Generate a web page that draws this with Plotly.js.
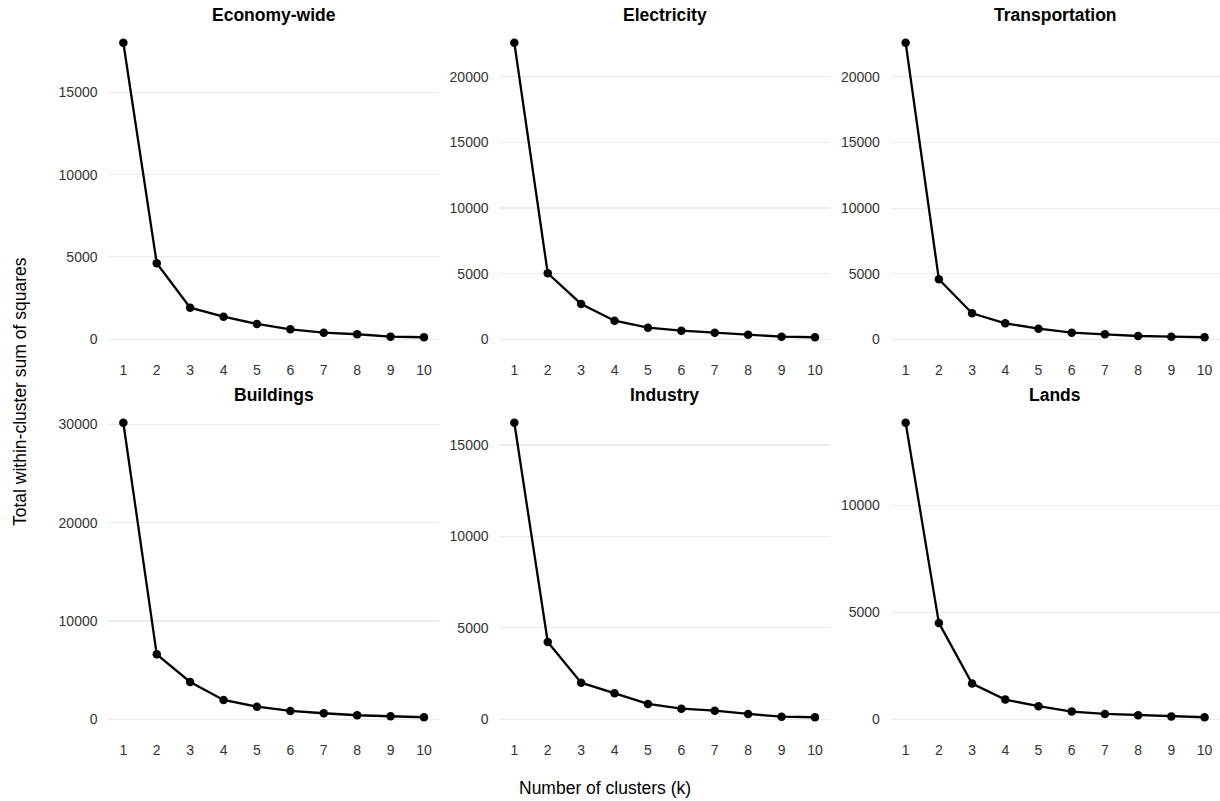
<!DOCTYPE html>
<html>
<head>
<meta charset="utf-8">
<script src="https://cdn.plot.ly/plotly-3.0.1.min.js"></script>
<style>html,body{margin:0;padding:0;background:#fff;}#chart{width:1220px;height:801px;}</style>
</head>
<body>
<div id="chart"></div>
<script>
const k = [1, 2, 3, 4, 5, 6, 7, 8, 9, 10];
const panelNames = ["Economy-wide", "Electricity", "Transportation", "Buildings", "Industry", "Lands"];
const economyWide = [18010, 4615, 1920, 1372, 929, 607, 400, 304, 160, 121];
const electricity = [22590, 5027, 2690, 1417, 885, 655, 503, 350, 198, 152];
const transportation = [22600, 4570, 1980, 1217, 808, 503, 380, 250, 198, 152];
const buildings = [30165, 6610, 3795, 1963, 1281, 844, 610, 407, 305, 203];
const industry = [16218, 4228, 2003, 1422, 837, 580, 470, 290, 142, 109];
const lands = [13860, 4514, 1682, 935, 622, 374, 262, 200, 140, 107];
const yDticks = [5000, 5000, 5000, 10000, 5000, 5000];
const xTitle = "Number of clusters (k)";
const yTitle = "Total within-cluster sum of squares";

const series = [economyWide, electricity, transportation, buildings, industry, lands];
const W = 1220, H = 801;
const colPx = [[108.3, 439], [499.3, 830], [890.7, 1219.5]];
const rowPx = [[28, 352], [408, 732]];
const font = "Liberation Sans, Arial, sans-serif";

const traces = [];
const layout = {
  width: W, height: H,
  margin: {l: 0, r: 0, t: 0, b: 0},
  paper_bgcolor: "#fff", plot_bgcolor: "#fff",
  showlegend: false,
  font: {family: font, color: "#333"},
  annotations: []
};

series.forEach((vals, i) => {
  const r = Math.floor(i / 3), c = i % 3;
  const n = i + 1;
  const xa = "x" + (n === 1 ? "" : n), ya = "y" + (n === 1 ? "" : n);
  traces.push({
    x: k, y: vals, type: "scatter", mode: "lines+markers",
    xaxis: xa, yaxis: ya,
    line: {color: "#000", width: 2.3},
    marker: {color: "#000", size: 8.5},
    hoverinfo: "x+y"
  });
  const mn = Math.min(...vals), mx = Math.max(...vals);
  const pad = 0.05 * (mx - mn);
  const xd = [colPx[c][0] / W, colPx[c][1] / W];
  const yd = [1 - rowPx[r][1] / H, 1 - rowPx[r][0] / H];
  layout["xaxis" + (n === 1 ? "" : n)] = {
    domain: xd, anchor: ya, range: [0.55, 10.45],
    tickmode: "linear", tick0: 1, dtick: 1,
    showgrid: false, zeroline: false, showline: false,
    ticks: "outside", ticklen: 5, tickcolor: "rgba(0,0,0,0)",
    tickfont: {family: font, size: 14, color: "#333"},
    fixedrange: true
  };
  layout["yaxis" + (n === 1 ? "" : n)] = {
    domain: yd, anchor: xa, range: [mn - pad, mx + pad],
    tickmode: "linear", tick0: 0, dtick: yDticks[i], tickformat: "d",
    showgrid: true, gridcolor: "#ebebeb", gridwidth: 1.1,
    zeroline: false, showline: false,
    ticks: "outside", ticklen: 7, tickcolor: "rgba(0,0,0,0)",
    tickfont: {family: font, size: 14, color: "#333"},
    fixedrange: true
  };
  layout.annotations.push({
    text: "<b>" + panelNames[i] + "</b>",
    xref: "paper", yref: "paper",
    x: (xd[0] + xd[1]) / 2, y: 1 - (r === 0 ? 15 : 395) / H,
    xanchor: "center", yanchor: "middle", showarrow: false,
    font: {family: font, size: 17.5, color: "#000"}
  });
});

layout.annotations.push({
  text: xTitle, xref: "paper", yref: "paper",
  x: 605 / W, y: 1 - 788 / H, xanchor: "center", yanchor: "middle",
  showarrow: false, font: {family: font, size: 17.5, color: "#000"}
});
layout.annotations.push({
  text: yTitle, xref: "paper", yref: "paper",
  x: 20 / W, y: 1 - 392 / H, xanchor: "center", yanchor: "middle",
  textangle: -90, showarrow: false, font: {family: font, size: 17.5, color: "#000"}
});

Plotly.newPlot("chart", traces, layout, {displayModeBar: false, staticPlot: true});
</script>
</body>
</html>
